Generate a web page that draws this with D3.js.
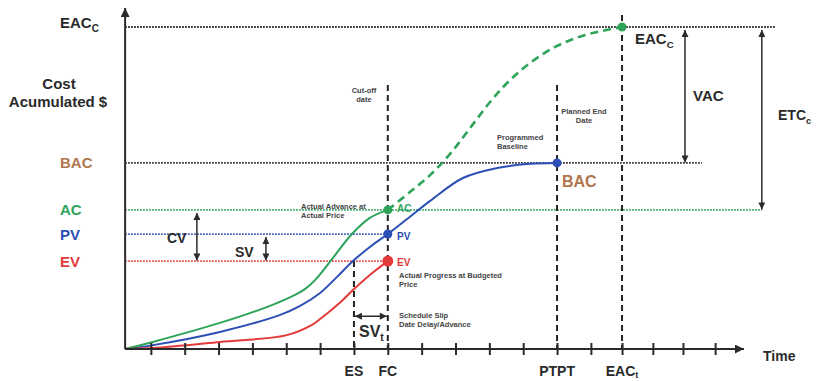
<!DOCTYPE html>
<html>
<head>
<meta charset="utf-8">
<script src="https://cdn.jsdelivr.net/npm/d3@7"></script>
<style>
  html, body { margin: 0; padding: 0; background: #fff; }
  svg { display: block; font-family: "Liberation Sans", Arial, sans-serif; }
</style>
</head>
<body>
<svg id="chart" width="818" height="381"></svg>
<script>
// ---------- data (time units, cost units) ----------
const originTime = 0.24;
const tickTimes = [1,2,3,4,5,6,7,8,9,10,11,12,13,14,14.92,15.83,16.72,17.67];
const axisLabels = [
  {t: 7, text: "ES", sub: ""},
  {t: 8, text: "FC", sub: ""},
  {t: 13, text: "PTPT", sub: ""},
  {t: 14.92, text: "EAC", sub: "t"}
];
const cutoffTime = 8, esTime = 7, plannedEndTime = 13, eacTime = 14.92;

const levelEAC = 100, levelBAC = 57.8, levelAC = 43.2, levelPV = 35.7, levelEV = 27.3;

const acTimes  = [0.24, 1.06, 3.04, 4.52, 5.26, 5.55, 5.85, 6.38, 6.94, 7.47, 8];
const acValues = [0, 2.2, 8.1, 13.4, 16.8, 18.6, 21.4, 28.3, 35.7, 40.7, 43.2];

const pvTimes  = [0.24, 1.06, 3.04, 4.82, 5.41, 6.0, 6.5, 6.97, 7.47, 8.0, 8.6, 9.25, 10.22, 11.23, 12.2, 13];
const pvValues = [0, 1.2, 5.3, 10.6, 13.4, 17.4, 22.4, 27.3, 31.7, 35.7, 40.6, 46.0, 53.1, 56.2, 57.5, 57.8];

const evTimes  = [0.24, 1.06, 3.04, 5.02, 5.76, 6.0, 6.6, 6.97, 7.47, 8];
const evValues = [0, 0.3, 2.2, 4.3, 7.5, 9.3, 14.5, 18.3, 23, 27.3];

const fcTimes  = [8, 8.66, 9.25, 9.84, 10.43, 11.02, 11.61, 12.2, 12.94, 13.83, 14.92];
const fcValues = [43.2, 48.8, 54.0, 60.6, 68.6, 76.7, 83.5, 88.8, 93.8, 97.5, 100];

// ---------- setup ----------
const svg = d3.select("#chart");
const x = d3.scaleLinear().domain([0, 18]).range([117, 117 + 33.85 * 18]);
const y = d3.scaleLinear().domain([0, 100]).range([349, 27]);

const GREEN = "#2ea35a", BLUE = "#2c4fb5", RED = "#e53a3a", BROWN = "#b0764e", INK = "#2a2a2a";

const defs = svg.append("defs");
defs.append("marker").attr("id", "arr").attr("viewBox", "0 0 10 10")
  .attr("refX", 10).attr("refY", 5).attr("markerWidth", 9).attr("markerHeight", 7)
  .attr("markerUnits", "userSpaceOnUse").attr("orient", "auto-start-reverse")
  .append("path").attr("d", "M0,0L10,5L0,10Z").attr("fill", INK);
defs.append("marker").attr("id", "axarr").attr("viewBox", "0 0 10 10")
  .attr("refX", 10).attr("refY", 5).attr("markerWidth", 12).attr("markerHeight", 9)
  .attr("markerUnits", "userSpaceOnUse").attr("orient", "auto")
  .append("path").attr("d", "M0,0L10,5L0,10Z").attr("fill", INK);

const x0 = x(originTime), y0 = y(0);

// ---------- horizontal dotted reference lines ----------
const hLines = [
  {v: levelEAC, t1: 19.44, c: "#222"},
  {v: levelBAC, t1: 17.28, c: "#222"},
  {v: levelAC,  t1: 19.05, c: GREEN},
  {v: levelPV,  t1: 8,     c: BLUE},
  {v: levelEV,  t1: 8,     c: RED}
];
svg.selectAll(".hl").data(hLines).enter().append("line")
  .attr("x1", x0).attr("x2", d => x(d.t1))
  .attr("y1", d => y(d.v)).attr("y2", d => y(d.v))
  .attr("stroke", d => d.c).attr("stroke-width", 1.8).attr("stroke-dasharray", "1.6,1.4");

// ---------- vertical dashed lines ----------
const vLines = [
  {t: cutoffTime, top: 82},
  {t: plannedEndTime, top: 82},
  {t: eacTime, top: 103.7},
  {t: esTime, top: levelEV}
];
svg.selectAll(".vl").data(vLines).enter().append("line")
  .attr("x1", d => x(d.t)).attr("x2", d => x(d.t))
  .attr("y1", d => y(d.top)).attr("y2", y0)
  .attr("stroke", "#222").attr("stroke-width", 2).attr("stroke-dasharray", "6,4");

// ---------- curves ----------
const line = d3.line().x(d => x(d[0])).y(d => y(d[1])).curve(d3.curveCatmullRom.alpha(0.5));
const zip = (a, b) => a.map((t, i) => [t, b[i]]);
svg.append("path").attr("d", line(zip(fcTimes, fcValues))).attr("fill", "none")
  .attr("stroke", GREEN).attr("stroke-width", 2.6).attr("stroke-dasharray", "8,5");
svg.append("path").attr("d", line(zip(pvTimes, pvValues))).attr("fill", "none")
  .attr("stroke", BLUE).attr("stroke-width", 2);
svg.append("path").attr("d", line(zip(acTimes, acValues))).attr("fill", "none")
  .attr("stroke", GREEN).attr("stroke-width", 2);
svg.append("path").attr("d", line(zip(evTimes, evValues))).attr("fill", "none")
  .attr("stroke", RED).attr("stroke-width", 2);

// ---------- markers ----------
const dots = [
  {t: cutoffTime, v: levelAC, c: GREEN, r: 4.5},
  {t: cutoffTime, v: levelPV, c: BLUE, r: 4.5},
  {t: cutoffTime, v: levelEV, c: RED, r: 5.5},
  {t: plannedEndTime, v: levelBAC, c: BLUE, r: 4.5},
  {t: eacTime, v: levelEAC, c: GREEN, r: 4.5}
];
svg.selectAll(".dot").data(dots).enter().append("circle")
  .attr("cx", d => x(d.t)).attr("cy", d => y(d.v)).attr("r", d => d.r).attr("fill", d => d.c);

// ---------- axes ----------
const xAxis = d3.axisBottom(x).tickValues(tickTimes).tickFormat("").tickSizeOuter(0);
const gx = svg.append("g").attr("transform", `translate(0,${y0})`).call(xAxis);
gx.select(".domain").remove();
gx.selectAll(".tick line").attr("y1", -6).attr("y2", 6).attr("stroke", INK).attr("stroke-width", 2);

svg.append("line").attr("x1", x0).attr("y1", y0).attr("x2", 744).attr("y2", y0)
  .attr("stroke", INK).attr("stroke-width", 2).attr("marker-end", "url(#axarr)");
svg.append("line").attr("x1", x0).attr("y1", y0).attr("x2", x0).attr("y2", 8)
  .attr("stroke", INK).attr("stroke-width", 2).attr("marker-end", "url(#axarr)");

// x axis labels
axisLabels.forEach(d => {
  const t = svg.append("text").attr("x", x(d.t)).attr("y", 376).attr("text-anchor", "middle")
    .attr("font-size", 14).attr("font-weight", "bold").attr("fill", INK).text(d.text);
  if (d.sub) t.append("tspan").attr("font-size", 9).attr("dy", 2).text(d.sub);
});
svg.append("text").attr("x", 763).attr("y", 361).attr("font-size", 14).attr("font-weight", "bold")
  .attr("fill", INK).text("Time");

// ---------- left labels ----------
const leftLabels = [
  {text: "EAC", sub: "C", v: levelEAC, dy: 1, c: INK},
  {text: "BAC", sub: "", v: levelBAC, dy: 5.5, c: BROWN},
  {text: "AC", sub: "", v: levelAC, dy: 5.5, c: GREEN},
  {text: "PV", sub: "", v: levelPV, dy: 5.5, c: BLUE},
  {text: "EV", sub: "", v: levelEV, dy: 5.5, c: RED}
];
leftLabels.forEach(d => {
  const t = svg.append("text").attr("x", 60).attr("y", y(d.v) + d.dy)
    .attr("font-size", 15).attr("font-weight", "bold").attr("fill", d.c).text(d.text);
  if (d.sub) t.append("tspan").attr("font-size", 10).attr("dy", 4).text(d.sub);
});
svg.append("text").attr("x", 59).attr("y", 89).attr("text-anchor", "middle")
  .attr("font-size", 15).attr("font-weight", "bold").attr("fill", INK).text("Cost");
svg.append("text").attr("x", 58).attr("y", 107).attr("text-anchor", "middle")
  .attr("font-size", 15).attr("font-weight", "bold").attr("fill", INK).text("Acumulated $");

// ---------- dimension arrows ----------
const vArrows = [
  {t: 2.36, a: levelAC, b: levelEV},
  {t: 4.4, a: levelPV, b: levelEV},
  {t: 16.78, a: levelEAC, b: levelBAC},
  {t: 19.05, a: levelEAC, b: levelAC}
];
svg.selectAll(".va").data(vArrows).enter().append("line")
  .attr("x1", d => x(d.t)).attr("x2", d => x(d.t))
  .attr("y1", d => y(d.a) + 3).attr("y2", d => y(d.b) - 0.5)
  .attr("stroke", INK).attr("stroke-width", 1.5)
  .attr("marker-start", "url(#arr)").attr("marker-end", "url(#arr)");
// SVt horizontal arrow
svg.append("line").attr("x1", x(esTime) + 1).attr("x2", x(cutoffTime) - 1)
  .attr("y1", y(10.2)).attr("y2", y(10.2))
  .attr("stroke", INK).attr("stroke-width", 1.5)
  .attr("marker-start", "url(#arr)").attr("marker-end", "url(#arr)");

// big labels
const bigLabels = [
  {x: 167, y: 243, text: "CV", sub: "", size: 14, c: INK},
  {x: 235, y: 257, text: "SV", sub: "", size: 14, c: INK},
  {x: 359, y: 337, text: "SV", sub: "t", size: 16, c: INK},
  {x: 693, y: 101, text: "VAC", sub: "", size: 15, c: INK},
  {x: 778, y: 120, text: "ETC", sub: "c", size: 14, c: INK},
  {x: 635, y: 44, text: "EAC", sub: "C", size: 15, c: INK},
  {x: 562, y: 187, text: "BAC", sub: "", size: 16, c: BROWN},
  {x: 397, y: 212, text: "AC", sub: "", size: 10, c: GREEN},
  {x: 397, y: 240, text: "PV", sub: "", size: 10, c: BLUE},
  {x: 397, y: 266, text: "EV", sub: "", size: 10, c: RED}
];
bigLabels.forEach(d => {
  const t = svg.append("text").attr("x", d.x).attr("y", d.y).attr("font-size", d.size)
    .attr("font-weight", "bold").attr("fill", d.c).text(d.text);
  if (d.sub) t.append("tspan").attr("font-size", d.size * 0.65).attr("dy", 4).text(d.sub);
});

// small annotations
const notes = [
  {x: 364, y: 93, anchor: "middle", lines: ["Cut-off", "date"]},
  {x: 584, y: 114, anchor: "middle", lines: ["Planned End", "Date"]},
  {x: 497, y: 140, anchor: "start", lines: ["Programmed", "Baseline"]},
  {x: 301, y: 209, anchor: "start", lines: ["Actual Advance at", "Actual Price"]},
  {x: 399, y: 278, anchor: "start", lines: ["Actual Progress at Budgeted", "Price"]},
  {x: 399, y: 318, anchor: "start", lines: ["Schedule Slip", "Date Delay/Advance"]}
];
notes.forEach(n => {
  const t = svg.append("text").attr("x", n.x).attr("y", n.y).attr("text-anchor", n.anchor)
    .attr("font-size", 7.5).attr("font-weight", "bold").attr("fill", "#444");
  n.lines.forEach((l, i) => t.append("tspan").attr("x", n.x).attr("dy", i ? 8.5 : 0).text(l));
});
</script>
</body>
</html>
